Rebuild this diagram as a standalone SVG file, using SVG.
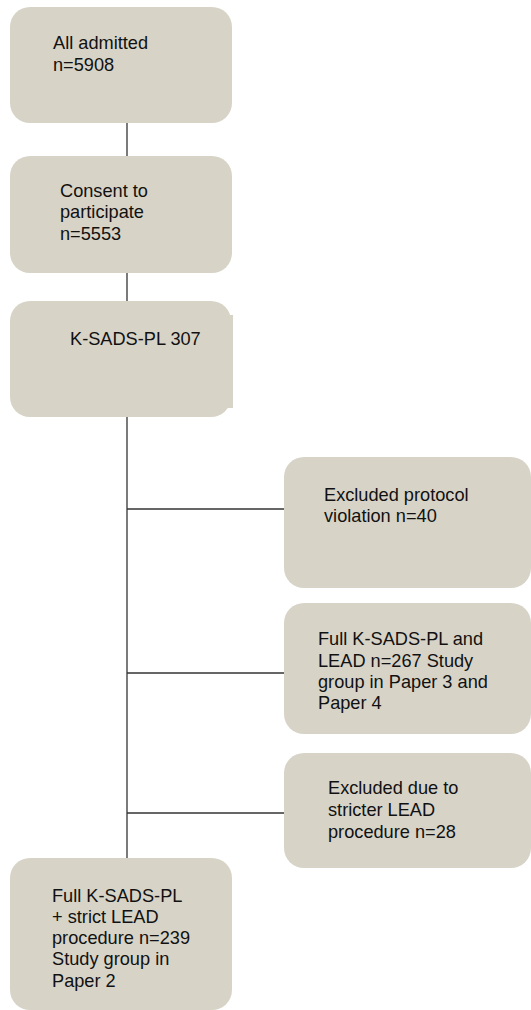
<svg xmlns="http://www.w3.org/2000/svg" width="531" height="1010" viewBox="0 0 531 1010">
<style>
.box{fill:#d7d4c7;stroke:none}
.t{font-family:"Liberation Sans",Arial,sans-serif;font-size:18.2px;fill:#111}
.c{stroke:#333;stroke-width:1.3;fill:none}
</style>
<rect width="531" height="1010" fill="#fff"/>
<g id="connectors">
<line class="c" x1="127" y1="123" x2="127" y2="156"/>
<line class="c" x1="127" y1="273" x2="127" y2="301"/>
<line class="c" x1="127" y1="417" x2="127" y2="858"/>
<line class="c" x1="127" y1="509" x2="284" y2="509"/>
<line class="c" x1="127" y1="673" x2="284" y2="673"/>
<line class="c" x1="127" y1="813" x2="284" y2="813"/>
</g>
<g id="n1">
<rect class="box" x="10" y="7" width="222" height="116" rx="20"/>
<text class="t" x="53" y="49">All admitted</text>
<text class="t" x="53" y="70.5">n=5908</text>
</g>
<g id="n2">
<rect class="box" x="10" y="156" width="222" height="117" rx="20"/>
<text class="t" x="60" y="197">Consent to</text>
<text class="t" x="60" y="218">participate</text>
<text class="t" x="60" y="239.5">n=5553</text>
</g>
<g id="n3">
<rect class="box" x="10" y="301" width="221" height="116" rx="20"/>
<rect class="box" x="215" y="315" width="18" height="93"/>
<text class="t" x="70" y="345">K-SADS-PL 307</text>
</g>
<g id="nA">
<rect class="box" x="284" y="457" width="247" height="131" rx="20"/>
<text class="t" x="324" y="501">Excluded protocol</text>
<text class="t" x="324" y="522">violation n=40</text>
</g>
<g id="nB">
<rect class="box" x="284" y="603" width="247" height="131" rx="20"/>
<text class="t" x="318" y="645">Full K-SADS-PL and</text>
<text class="t" x="318" y="666.5">LEAD n=267 Study</text>
<text class="t" x="318" y="688">group in Paper 3 and</text>
<text class="t" x="318" y="709">Paper 4</text>
</g>
<g id="nC">
<rect class="box" x="284" y="753" width="247" height="115" rx="20"/>
<text class="t" x="328" y="794">Excluded due to</text>
<text class="t" x="328" y="816">stricter LEAD</text>
<text class="t" x="328" y="838">procedure n=28</text>
</g>
<g id="n4">
<rect class="box" x="10" y="858" width="222" height="152" rx="20"/>
<text class="t" x="52" y="902">Full K-SADS-PL</text>
<text class="t" x="52" y="923">+ strict LEAD</text>
<text class="t" x="52" y="944">procedure n=239</text>
<text class="t" x="52" y="965">Study group in</text>
<text class="t" x="52" y="987">Paper 2</text>
</g>
</svg>
